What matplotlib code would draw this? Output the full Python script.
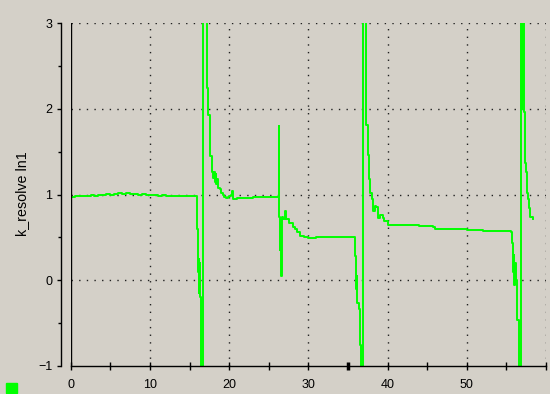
import matplotlib.pyplot as plt
from matplotlib.patches import Rectangle

# k_resolve ln1 trace (clipped ones set just outside the range)
t_vals = [0, 0.5, 1, 1.5, 2, 2.5, 3, 3.5, 4, 4.5, 5, 5.5, 6, 6.5, 7, 7.5, 8, 8.5, 9, 9.5,
          10, 10.5, 11, 11.5, 12, 12.5, 13, 13.5, 14, 14.5, 15, 15.5, 15.9,
          16.0, 16.05, 16.1, 16.15, 16.2, 16.25, 16.3, 16.35, 16.4, 16.5, 16.7, 16.75,
          17.1, 17.15, 17.3, 17.35, 17.5, 17.55, 17.8, 17.85, 18.0, 18.1, 18.2, 18.3,
          18.4, 18.5, 18.6, 18.8, 19.0, 19.2, 19.4, 19.6, 19.8, 20.0, 20.2, 20.4, 20.5,
          21, 22, 23, 24, 25, 26, 26.25, 26.3, 26.35, 26.4, 26.45, 26.5, 26.6, 26.65,
          26.8, 27.0, 27.2, 27.5, 28.0, 28.3, 28.6, 29.0, 29.5, 30, 31, 32, 33, 34, 35,
          35.8, 35.85, 36.0, 36.05, 36.1, 36.2, 36.35, 36.5, 36.7, 36.85, 36.9, 37.2,
          37.25, 37.3, 37.5, 37.6, 37.8, 38.0, 38.2, 38.4, 38.6, 38.8, 39.0, 39.4, 39.6,
          40.0, 40.4, 42, 44, 45.7, 46, 48, 50, 52, 54, 55.6, 55.7, 55.8, 55.9, 56.0,
          56.1, 56.2, 56.3, 56.4, 56.6, 56.85, 56.9, 56.95, 57.0, 57.05, 57.1, 57.2,
          57.25, 57.35, 57.45, 57.6, 57.75, 57.85, 58.0, 58.3]
k_vals = [0.97, 0.98, 0.98, 0.99, 0.99, 1.0, 0.99, 1.0, 1.0, 1.01, 1.0, 1.01, 1.02, 1.01,
          1.02, 1.01, 1.01, 1.0, 1.01, 1.0, 1.0, 1.0, 0.99, 1.0, 0.99, 0.99, 0.99, 0.98,
          0.99, 0.98, 0.98, 0.98, 0.98,
          0.6, 0.3, 0.1, -0.15, 0.25, -0.05, 0.2, -0.2, -0.48, -1.3, -1.3, 3.4,
          3.4, 2.25, 2.25, 1.93, 1.93, 1.45, 1.45, 1.27, 1.2, 1.27, 1.15, 1.24,
          1.12, 1.18, 1.08, 1.07, 1.02, 1.0, 0.97, 0.96, 0.97, 0.99, 1.0, 1.04, 0.95,
          0.96, 0.96, 0.97, 0.97, 0.97, 0.97, 0.97, 1.8, 0.74, 0.35, 0.7, 0.5, 0.05, 0.74,
          0.72, 0.81, 0.72, 0.67, 0.62, 0.6, 0.56, 0.52, 0.5, 0.49, 0.5, 0.5, 0.51, 0.5, 0.51,
          0.51, 0.28, 0.1, -0.1, 0.05, -0.26, -0.34, -0.75, -1.3, -1.3, 3.4, 3.4,
          2.03, 1.81, 1.46, 1.18, 1.02, 0.95, 0.81, 0.87, 0.86, 0.73, 0.76, 0.73, 0.69,
          0.65, 0.64, 0.64, 0.63, 0.62, 0.6, 0.6, 0.59, 0.58, 0.57, 0.565, 0.44, 0.1, 0.3, -0.06,
          0.2, 0.0, -0.13, -0.46, -1.3, -1.3, 3.4, 2.0, 3.4, 2.1, 3.4, 3.4,
          1.97, 1.37, 1.27, 1.02, 0.95, 0.84, 0.74, 0.71]

x_ticks = list(range(0, 61, 5))
x_labels = ['0', '', '10', '', '20', '', '30', '', '40', '', '50', '', '']
y_ticks = [-1, 0, 1, 2, 3]

bg = '#d4d0c8'
green = '#00ff00'

fig = plt.figure(figsize=(5.5, 3.94), dpi=100, facecolor=bg)
ax = fig.add_axes([70.7 / 550, 28 / 394, (546 - 70.7) / 550, (366 - 23.3) / 394])
ax.set_facecolor(bg)

ax.plot(t_vals, k_vals, color=green, lw=1.4, drawstyle='steps-post')
ax.axvline(0, color='black', lw=1)

ax.set_xlim(0, 60)
ax.set_ylim(-1, 3)

ax.set_xticks(x_ticks)
ax.set_xticklabels(x_labels)
ax.set_yticks(y_ticks)
ax.set_yticks([-0.5, 0.5, 1.5, 2.5], minor=True)

for s in ['top', 'right']:
    ax.spines[s].set_visible(False)
ax.spines['left'].set_position(('outward', 7.2))
ax.spines['left'].set_linewidth(1)
ax.spines['bottom'].set_linewidth(1)

ax.tick_params(axis='x', direction='inout', length=6, width=1, pad=6, labelsize=9)
ax.tick_params(axis='y', which='major', direction='out', length=3, width=1, pad=3, labelsize=9)
ax.tick_params(axis='y', which='minor', direction='out', length=2.5, width=1)
# bold marker at x=35 on the time axis
ax.xaxis.get_major_ticks()[7].tick1line.set_markeredgewidth(2.5)

for v in [10, 20, 30, 40, 50, 60]:
    ax.axvline(v, color='#202020', lw=1, ls=(0, (1, 4.5)), zorder=0)
for v in [0, 1, 2, 3]:
    ax.axhline(v, color='#202020', lw=1, ls=(0, (1, 4.5)), zorder=0)

for lab in ax.get_xticklabels() + ax.get_yticklabels():
    lab.set_fontfamily('Liberation Sans')

fig.text(22.5 / 550, 1 - 194 / 394, 'k_resolve ln1', rotation=90, ha='center', va='center',
         fontsize=10.3, family='Liberation Sans')

fig.patches.append(Rectangle((6 / 550, 1 - 393 / 394), 11 / 550, 10 / 394,
                             transform=fig.transFigure, color=green))

fig.savefig('out.png', dpi=100, facecolor=bg)
